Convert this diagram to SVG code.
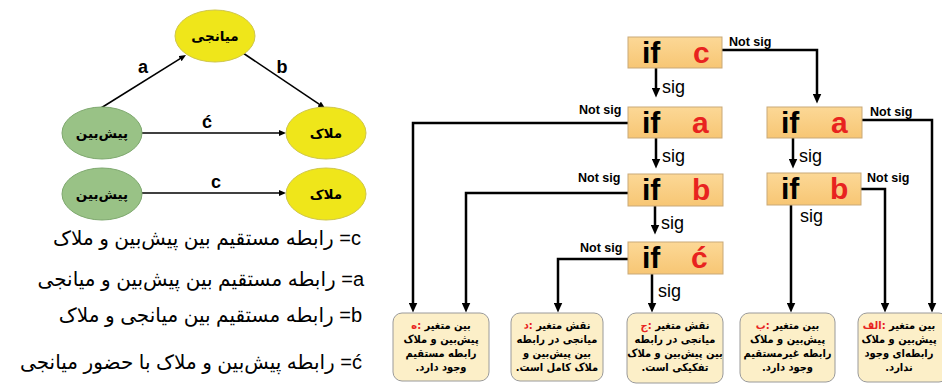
<svg xmlns="http://www.w3.org/2000/svg" width="942" height="389" viewBox="0 0 942 389">
<style>
.yel{fill:#EFE61A;stroke:#CFC64A;stroke-width:1}
.grn{fill:#99C286;stroke:#7EA86E;stroke-width:1}
.en{font-family:"DejaVu Sans",sans-serif;font-weight:bold;font-size:13.5px;text-anchor:middle;fill:#000}
.lbl{font-family:"Liberation Sans",Arial,sans-serif;font-weight:bold;font-size:18px;fill:#000;text-anchor:middle}
.desc{font-family:"Liberation Sans","DejaVu Sans",sans-serif;font-size:20px;fill:#000}
.ifb{fill:url(#gb);stroke:#C9A978;stroke-width:1}
.if{font-family:"Liberation Sans",Arial,sans-serif;font-weight:bold;font-size:30px;fill:#000}
.v{font-family:"Liberation Sans",Arial,sans-serif;font-weight:bold;font-size:30px;fill:#E8231F}
.ns{font-family:"Liberation Sans",Arial,sans-serif;font-weight:bold;font-size:12.5px;fill:#000}
.sig{font-family:"Liberation Sans",Arial,sans-serif;font-size:18px;fill:#000}
.res{fill:#FCEFC8;stroke:#9A9A9A;stroke-width:1}
.rt{font-family:"DejaVu Sans Condensed","DejaVu Sans",sans-serif;font-weight:bold;font-size:11px;fill:#000;text-anchor:middle}
.red{fill:#E8231F}
.fc{fill:none;stroke:#000;stroke-width:2.5}
.lc{fill:none;stroke:#000;stroke-width:1.6}
</style>
<defs>
<linearGradient id="gb" x1="0" y1="0" x2="0" y2="1">
<stop offset="0" stop-color="#FCD896"/>
<stop offset="1" stop-color="#F7C674"/>
</linearGradient>
<marker id="ah" markerUnits="userSpaceOnUse" markerWidth="10" markerHeight="9" refX="4" refY="4" orient="auto" viewBox="0 0 9 8">
<path d="M0,0 L9,4 L0,8 z" fill="#000"/>
</marker>
<marker id="sh" markerUnits="userSpaceOnUse" markerWidth="7" markerHeight="6" refX="3" refY="3" orient="auto" viewBox="0 0 7 6">
<path d="M0,0 L7,3 L0,6 z" fill="#000"/>
</marker>
</defs>

<g id="connectors">
<path class="lc" d="M101,108 L182.6,57.1" marker-end="url(#sh)"/>
<path class="lc" d="M243,53 L321.7,105.8" marker-end="url(#sh)"/>
<path class="lc" d="M142,133 L282,133" marker-end="url(#sh)"/>
<path class="lc" d="M142,193 L282,193" marker-end="url(#sh)"/>
<text class="lbl" x="143" y="73">a</text>
<text class="lbl" x="282" y="73">b</text>
<text class="lbl" x="207" y="128">ć</text>
<text class="lbl" x="216" y="188">c</text>

<path class="fc" d="M656,68 V92" marker-end="url(#ah)"/>
<path class="fc" d="M722,50 H817 V98" marker-end="url(#ah)"/>
<path class="fc" d="M628,123 H413 V307" marker-end="url(#ah)"/>
<path class="fc" d="M656,138 V163" marker-end="url(#ah)"/>
<path class="fc" d="M862,120 H932 V307" marker-end="url(#ah)"/>
<path class="fc" d="M793,138 V163" marker-end="url(#ah)"/>
<path class="fc" d="M628,193 H466 V307" marker-end="url(#ah)"/>
<path class="fc" d="M655,206 V229" marker-end="url(#ah)"/>
<path class="fc" d="M628,259 H558 V307" marker-end="url(#ah)"/>
<path class="fc" d="M652,274 V307" marker-end="url(#ah)"/>
<path class="fc" d="M861,189 H885 V307" marker-end="url(#ah)"/>
<path class="fc" d="M791,205 V307" marker-end="url(#ah)"/>

<text class="ns" x="729" y="46">Not sig</text>
<text class="sig" x="662" y="93">sig</text>
<text class="ns" x="579" y="114">Not sig</text>
<text class="ns" x="870" y="116">Not sig</text>
<text class="sig" x="662" y="162">sig</text>
<text class="sig" x="799" y="162">sig</text>
<text class="ns" x="578" y="182">Not sig</text>
<text class="ns" x="867" y="182">Not sig</text>
<text class="sig" x="661" y="229">sig</text>
<text class="sig" x="800" y="222">sig</text>
<text class="ns" x="580" y="252">Not sig</text>
<text class="sig" x="658" y="297">sig</text>
</g>

<g id="node-mediator">
<ellipse class="yel" cx="215" cy="36" rx="40" ry="26"/>
<text class="en" x="215" y="41" direction="rtl">میانجی</text>
</g>
<g id="node-predictor-1">
<ellipse class="grn" cx="102" cy="133" rx="40" ry="26"/>
<text class="en" x="102" y="138" direction="rtl">پیش‌بین</text>
</g>
<g id="node-criterion-1">
<ellipse class="yel" cx="326" cy="133" rx="40" ry="26"/>
<text class="en" x="326" y="138" direction="rtl">ملاک</text>
</g>
<g id="node-predictor-2">
<ellipse class="grn" cx="102" cy="194" rx="40" ry="26"/>
<text class="en" x="102" y="199" direction="rtl">پیش‌بین</text>
</g>
<g id="node-criterion-2">
<ellipse class="yel" cx="326" cy="194" rx="40" ry="26"/>
<text class="en" x="326" y="199" direction="rtl">ملاک</text>
</g>

<g id="legend">
<text class="desc" x="361" y="245" direction="rtl" text-anchor="start">c= رابطه مستقیم بین پیش‌بین و ملاک</text>
<text class="desc" x="364" y="286" direction="rtl" text-anchor="start">a= رابطه مستقیم بین پیش‌بین و میانجی</text>
<text class="desc" x="362" y="322" direction="rtl" text-anchor="start">b= رابطه مستقیم بین میانجی و ملاک</text>
<text class="desc" x="362" y="369" direction="rtl" text-anchor="start">ć= رابطه پیش‌بین و ملاک با حضور میانجی</text>
</g>

<g id="node-if-c">
<rect class="ifb" x="628" y="37" width="94" height="31"/>
<text class="if" x="642" y="63">if</text>
<text class="v" x="693" y="63">c</text>
</g>
<g id="node-if-a-left">
<rect class="ifb" x="628" y="107" width="94" height="31"/>
<text class="if" x="642" y="133">if</text>
<text class="v" x="692" y="133">a</text>
</g>
<g id="node-if-a-right">
<rect class="ifb" x="767" y="107" width="95" height="31"/>
<text class="if" x="781" y="133">if</text>
<text class="v" x="831" y="133">a</text>
</g>
<g id="node-if-b-left">
<rect class="ifb" x="628" y="174" width="95" height="32"/>
<text class="if" x="642" y="200">if</text>
<text class="v" x="692" y="200">b</text>
</g>
<g id="node-if-b-right">
<rect class="ifb" x="767" y="173" width="94" height="32"/>
<text class="if" x="781" y="199">if</text>
<text class="v" x="830" y="199">b</text>
</g>
<g id="node-if-c-prime">
<rect class="ifb" x="628" y="242" width="95" height="32"/>
<text class="if" x="642" y="268">if</text>
<text class="v" x="691" y="268">ć</text>
</g>

<g id="node-result-he">
<rect class="res" x="393" y="313" width="96" height="68" rx="9"/>
<text class="rt" x="441" y="329" direction="rtl">بین متغیر <tspan class="red">:ه</tspan></text>
<text class="rt" x="441" y="343" direction="rtl">پیش‌بین و ملاک</text>
<text class="rt" x="441" y="357" direction="rtl">رابطه مستقیم</text>
<text class="rt" x="441" y="371" direction="rtl">وجود دارد.</text>
</g>
<g id="node-result-dal">
<rect class="res" x="511" y="313" width="92" height="68" rx="9"/>
<text class="rt" x="557" y="329" direction="rtl">نقش متغیر <tspan class="red">:د</tspan></text>
<text class="rt" x="557" y="343" direction="rtl">میانجی در رابطه</text>
<text class="rt" x="557" y="357" direction="rtl">بین پیش‌بین و</text>
<text class="rt" x="557" y="371" direction="rtl">ملاک کامل است.</text>
</g>
<g id="node-result-jim">
<rect class="res" x="627" y="313" width="96" height="70" rx="9"/>
<text class="rt" x="675" y="329" direction="rtl">نقش متغیر <tspan class="red">:ج</tspan></text>
<text class="rt" x="675" y="343" direction="rtl">میانجی در رابطه</text>
<text class="rt" x="675" y="357" direction="rtl">بین پیش‌بین و ملاک</text>
<text class="rt" x="675" y="371" direction="rtl">تفکیکی است.</text>
</g>
<g id="node-result-be">
<rect class="res" x="740" y="313" width="95" height="69" rx="9"/>
<text class="rt" x="787.5" y="329" direction="rtl">بین متغیر <tspan class="red">:ب</tspan></text>
<text class="rt" x="787.5" y="343" direction="rtl">پیش‌بین و ملاک</text>
<text class="rt" x="787.5" y="357" direction="rtl">رابطه غیرمستقیم</text>
<text class="rt" x="787.5" y="371" direction="rtl">وجود دارد.</text>
</g>
<g id="node-result-alef">
<rect class="res" x="858" y="313" width="90" height="69" rx="9"/>
<text class="rt" x="899" y="329" direction="rtl">بین متغیر <tspan class="red">:الف</tspan></text>
<text class="rt" x="899" y="343" direction="rtl">پیش‌بین و ملاک</text>
<text class="rt" x="899" y="357" direction="rtl">رابطه‌ای وجود</text>
<text class="rt" x="899" y="371" direction="rtl">ندارد.</text>
</g>
</svg>
